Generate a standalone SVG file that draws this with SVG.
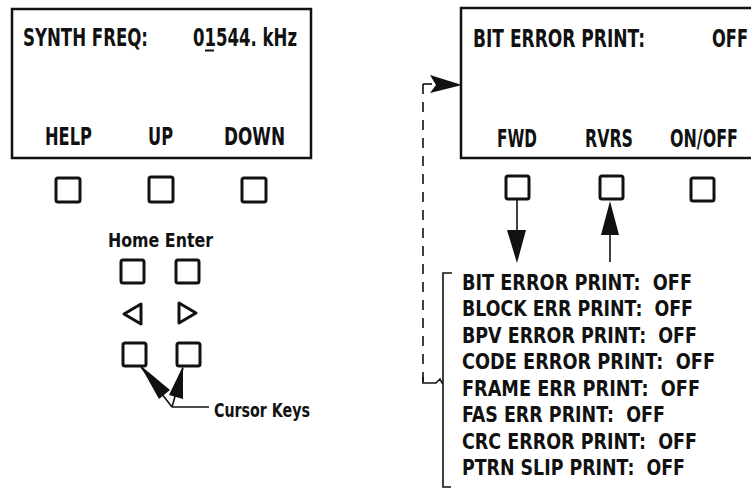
<svg xmlns="http://www.w3.org/2000/svg" width="751" height="498" viewBox="0 0 751 498">
<style>
text{font-family:"Liberation Sans Narrow","DejaVu Sans Condensed","Liberation Sans",Arial,sans-serif;font-weight:bold;fill:#111;white-space:pre}
.scr{fill:none;stroke:#111;stroke-width:2.5}
.key{fill:none;stroke:#111;stroke-width:3}
.t22{font-size:24px}
.t21{font-size:21px}
.t19{font-size:20px}
.ln{fill:none;stroke:#111;stroke-width:1.6}
.dash{fill:none;stroke:#111;stroke-width:1.6;stroke-dasharray:10 8}
.head{fill:#111}
</style>
<g id="synth-screen">
<rect class="scr" x="12" y="9" width="299" height="149"/>
<text class="t22" x="23" y="46" textLength="125" lengthAdjust="spacingAndGlyphs">SYNTH FREQ:</text>
<text class="t22" x="193" y="46" textLength="104" lengthAdjust="spacingAndGlyphs">01544. kHz</text>
<line x1="205" y1="50.5" x2="214" y2="50.5" stroke="#111" stroke-width="2"/>
<text class="t22" x="45" y="145" textLength="47" lengthAdjust="spacingAndGlyphs">HELP</text>
<text class="t22" x="148" y="145" textLength="25" lengthAdjust="spacingAndGlyphs">UP</text>
<text class="t22" x="224" y="145" textLength="61" lengthAdjust="spacingAndGlyphs">DOWN</text>
</g>
<g id="synth-keys">
<rect class="key" x="56" y="178" width="24" height="24" rx="2"/>
<rect class="key" x="149" y="177" width="24" height="25" rx="2"/>
<rect class="key" x="242" y="178" width="24" height="24" rx="2"/>
</g>
<g id="cursor-pad">
<text class="t19" x="108" y="247" textLength="105" lengthAdjust="spacingAndGlyphs">Home Enter</text>
<rect class="key" x="121" y="260" width="23" height="23" rx="2"/>
<rect class="key" x="176" y="260" width="23" height="23" rx="2"/>
<path class="key" d="M141 304 L124 314 L141 324 Z" stroke-linejoin="round"/>
<path class="key" d="M179 303 L196 313 L179 323 Z" stroke-linejoin="round"/>
<rect class="key" x="123" y="343" width="23" height="23" rx="2"/>
<rect class="key" x="177" y="343" width="23" height="23" rx="2"/>
</g>
<g id="cursor-label">
<text class="t19" x="214" y="417" textLength="96" lengthAdjust="spacingAndGlyphs">Cursor Keys</text>
</g>
<g id="bit-screen">
<rect class="scr" x="461" y="8" width="300" height="150"/>
<text class="t22" x="473" y="47" textLength="172" lengthAdjust="spacingAndGlyphs">BIT ERROR PRINT:</text>
<text class="t22" x="712" y="47" textLength="36" lengthAdjust="spacingAndGlyphs">OFF</text>
<text class="t22" x="497" y="147" textLength="40" lengthAdjust="spacingAndGlyphs">FWD</text>
<text class="t22" x="585" y="147" textLength="48" lengthAdjust="spacingAndGlyphs">RVRS</text>
<text class="t22" x="670" y="147" textLength="68" lengthAdjust="spacingAndGlyphs">ON/OFF</text>
</g>
<g id="bit-keys">
<rect class="key" x="506" y="176" width="23" height="23" rx="2"/>
<rect class="key" x="600" y="176" width="23" height="23" rx="2"/>
<rect class="key" x="691" y="178" width="23" height="23" rx="2"/>
</g>
<g id="print-list">
<path class="ln" d="M452 273 H443 V487 H451"/>
<text class="t21" x="462" y="290" textLength="230" lengthAdjust="spacingAndGlyphs">BIT ERROR PRINT:  OFF</text>
<text class="t21" x="462" y="316" textLength="231" lengthAdjust="spacingAndGlyphs">BLOCK ERR PRINT:  OFF</text>
<text class="t21" x="462" y="343" textLength="235" lengthAdjust="spacingAndGlyphs">BPV ERROR PRINT:  OFF</text>
<text class="t21" x="462" y="369" textLength="253" lengthAdjust="spacingAndGlyphs">CODE ERROR PRINT:  OFF</text>
<text class="t21" x="462" y="396" textLength="238" lengthAdjust="spacingAndGlyphs">FRAME ERR PRINT:  OFF</text>
<text class="t21" x="462" y="422" textLength="203" lengthAdjust="spacingAndGlyphs">FAS ERR PRINT:  OFF</text>
<text class="t21" x="462" y="449" textLength="235" lengthAdjust="spacingAndGlyphs">CRC ERROR PRINT:  OFF</text>
<text class="t21" x="462" y="475" textLength="223" lengthAdjust="spacingAndGlyphs">PTRN SLIP PRINT:  OFF</text>
</g>
<g id="connectors">
<line class="ln" x1="517" y1="199" x2="517" y2="235"/>
<path class="head" d="M507 230 L526 230 L517 263 Z"/>
<line class="ln" x1="610" y1="230" x2="610" y2="262"/>
<path class="head" d="M601 235 L619 235 L610 201 Z"/>
<path class="dash" d="M423 84 V383"/>
<path class="ln" d="M423 377 V383 H436 L440 379 L442 383 H443"/>
<path class="ln" d="M423 84 H432"/>
<path class="head" d="M430 75 L462 85 L430 93 L436 85 Z"/>
<line class="ln" x1="172" y1="407" x2="141" y2="367"/>
<path class="head" d="M140 365 L170 390 L159 399 Z"/>
<line class="ln" x1="172" y1="407" x2="183" y2="368"/>
<path class="head" d="M183 366 L183 399 L169 395 Z"/>
<line class="ln" x1="172" y1="407" x2="209" y2="407"/>
</g>
</svg>
